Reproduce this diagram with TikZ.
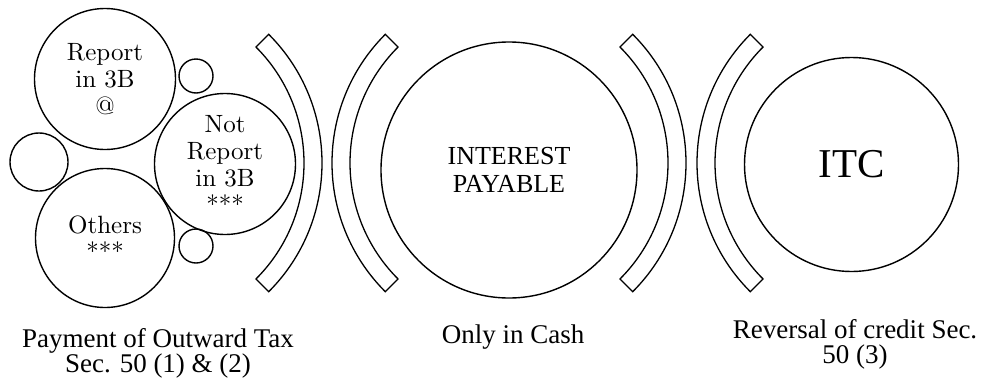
\documentclass[tikz,border=0pt]{standalone}
\usepackage{fontspec}
\newfontfamily\tms{Liberation Serif}
\newfontfamily\lmten{lmroman10-regular}[Extension=.otf]
\begin{document}
\begin{tikzpicture}[x=1pt,y=-1pt,
  ring/.style={circle,draw,line width=1.4pt,inner sep=0pt,align=center},
  band/.style={draw,line width=1.3pt,fill=white,line join=miter},
  lmtext/.style={font=\lmten\fontsize{25}{27}\selectfont},
  tmtext/.style={font=\tms\fontsize{27}{25}\selectfont,align=center}]
\fill[white] (0,0) rectangle (981,378);
\useasboundingbox (0,0) rectangle (981,378);
% left cluster
\node[ring,lmtext,minimum size=141pt] (report) at (105,79) {Report\\in 3B\\@};
\node[ring,minimum size=34pt] (s1) at (196,76) {};
\node[ring,minimum size=58pt] (s2) at (39,162) {};
\node[ring,lmtext,minimum size=141pt] (notrep) at (225,164) {Not\\Report\\in 3B\\***};
\node[ring,lmtext,minimum size=139pt] (others) at (105,238) {Others\\***};
\node[ring,minimum size=34pt] (s3) at (196,246) {};
% centre and right circles
\node[ring,font=\tms\fontsize{26}{28}\selectfont,minimum size=256pt] (interest) at (509,170) {INTEREST\\PAYABLE};
\node[ring,font=\tms\fontsize{41}{44}\selectfont,minimum size=214pt] (itc) at (851.5,164.5) {ITC};
% arc bands
\coordinate (c1) at (140,163);
\coordinate (c2) at (514,163);
\coordinate (c3) at (504,163);
\coordinate (c4) at (879,163);
\draw[band] (c1) ++(-45:164) arc[start angle=-45,end angle=45,radius=164] -- ++(45:18) arc[start angle=45,end angle=-45,radius=182] -- cycle;
\draw[band] (c2) ++(135:164) arc[start angle=135,end angle=225,radius=164] -- ++(225:18) arc[start angle=225,end angle=135,radius=182] -- cycle;
\draw[band] (c3) ++(-45:164) arc[start angle=-45,end angle=45,radius=164] -- ++(45:18) arc[start angle=45,end angle=-45,radius=182] -- cycle;
\draw[band] (c4) ++(135:164) arc[start angle=135,end angle=225,radius=164] -- ++(225:18) arc[start angle=225,end angle=135,radius=182] -- cycle;
% labels
\node[tmtext] (pay) at (158,353) {Payment of Outward Tax\\Sec. 50 (1) \& (2)};
\node[tmtext,anchor=base] (cash) at (513,343) {Only in Cash};
\node[tmtext] (rev) at (855,344) {Reversal of credit Sec.\\50 (3)};
\end{tikzpicture}
\end{document}
